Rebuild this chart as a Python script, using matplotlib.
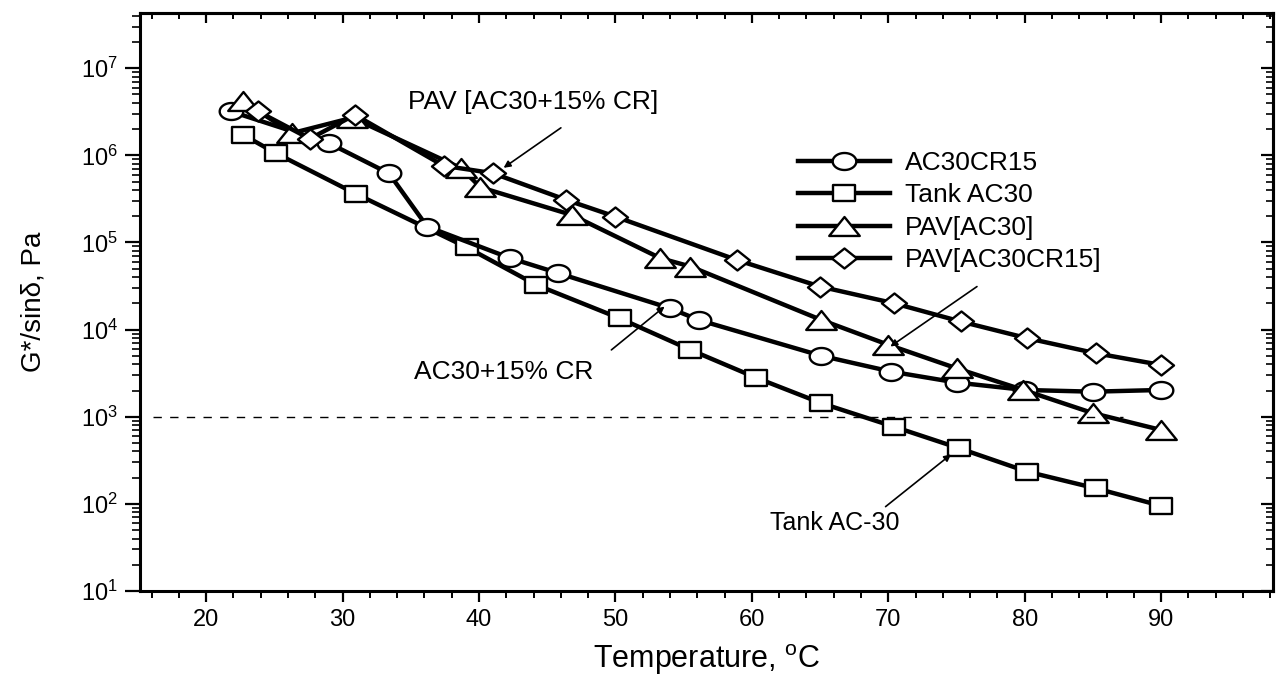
import numpy as np
import matplotlib
matplotlib.use('Agg')
import matplotlib.pyplot as plt
from matplotlib.path import Path
from matplotlib.ticker import MultipleLocator, LogLocator, NullFormatter, FixedLocator

plt.rcParams['font.family'] = ['Liberation Sans', 'DejaVu Sans']
plt.rcParams['mathtext.fontset'] = 'custom'
plt.rcParams['mathtext.rm'] = 'Liberation Sans'
plt.rcParams['mathtext.it'] = 'Liberation Sans:italic'
plt.rcParams['mathtext.bf'] = 'Liberation Sans:bold'

# ---------------- data ----------------
temp_ac30cr15 = [21.8, 29.0, 33.4, 36.2, 42.3, 45.8, 54.0, 56.1, 65.1, 70.2, 75.0, 80.0, 85.0, 90.0]
g_ac30cr15 = [3.2e6, 1.38e6, 6.2e5, 1.52e5, 6.6e4, 4.45e4, 1.76e4, 1.29e4, 5.0e3, 3.3e3, 2.47e3, 2.03e3, 1.94e3, 2.03e3]

temp_tank = [22.7, 25.1, 31.0, 39.1, 44.2, 50.3, 55.5, 60.3, 65.1, 70.4, 75.2, 80.2, 85.2, 90.0]
g_tank = [1.72e6, 1.06e6, 3.6e5, 8.8e4, 3.26e4, 1.35e4, 5.85e3, 2.81e3, 1.43e3, 770, 435, 234, 151, 95]

temp_pav = [22.7, 26.3, 30.7, 38.7, 40.1, 46.8, 53.3, 55.5, 65.1, 70.0, 75.0, 79.9, 85.0, 90.0]
g_pav = [4.2e6, 1.8e6, 2.7e6, 7.1e5, 4.3e5, 2.07e5, 6.6e4, 5.3e4, 1.29e4, 6.7e3, 3.6e3, 2.03e3, 1.1e3, 705]

temp_pavcr = [23.8, 27.6, 30.9, 37.4, 41.0, 46.4, 50.0, 58.9, 65.0, 70.4, 75.3, 80.2, 85.2, 90.0]
g_pavcr = [3.19e6, 1.55e6, 2.92e6, 7.6e5, 6.25e5, 3.08e5, 1.98e5, 6.3e4, 3.12e4, 2.01e4, 1.24e4, 7.96e3, 5.36e3, 3.93e3]

labels = ['AC30CR15', 'Tank AC30', 'PAV[AC30]', 'PAV[AC30CR15]']
spec_limit = 1000.0
x_ticks = [20, 30, 40, 50, 60, 70, 80, 90]

# ---------------- markers ----------------
t = np.linspace(0, 2 * np.pi, 64)
ellipse = Path(np.column_stack([np.cos(t), 0.72 * np.sin(t)]), closed=True)
rect = Path([(-1, -0.78), (1, -0.78), (1, 0.78), (-1, 0.78), (-1, -0.78)], closed=True)
tri = Path([(0, 0.62), (-1, -0.62), (1, -0.62), (0, 0.62)], closed=True)
diam = Path([(0, 0.8), (1, 0), (0, -0.8), (-1, 0), (0, 0.8)], closed=True)

fig = plt.figure(figsize=(12.79, 6.77), dpi=100)
ax = fig.add_axes([0.1095, 0.127, 0.8858, 0.8533])

common = dict(color='black', lw=3.2, mfc='white', mec='black', mew=1.7)
h_sq, = ax.plot(temp_tank, g_tank, marker=rect, ms=15.5, **common)
h_ci, = ax.plot(temp_ac30cr15, g_ac30cr15, marker=ellipse, ms=17, **common)
h_tr, = ax.plot(temp_pav, g_pav, marker=tri, ms=22, **common)
h_di, = ax.plot(temp_pavcr, g_pavcr, marker=diam, ms=18, **common)

ax.plot([16.1, 87.2], [spec_limit, spec_limit], color='black', lw=1.0, ls=(0, (6, 6)))

ax.set_yscale('log')
ax.set_xlim(15.15, 98.2)
ax.set_ylim(10, 10 ** 7.63)

ax.xaxis.set_major_locator(FixedLocator(x_ticks))
ax.xaxis.set_minor_locator(MultipleLocator(2))
ax.yaxis.set_major_locator(LogLocator(base=10, numticks=20))
ax.yaxis.set_minor_locator(LogLocator(base=10, subs=np.arange(2, 10), numticks=20))
ax.yaxis.set_minor_formatter(NullFormatter())

ax.tick_params(axis='x', which='major', direction='out', length=8, width=1.6, labelsize=17, pad=5)
ax.tick_params(axis='x', which='minor', direction='out', length=5, width=1.4)
ax.tick_params(axis='y', which='major', direction='out', length=11, width=1.6, labelsize=17, pad=5)
ax.tick_params(axis='y', which='minor', direction='out', length=6, width=1.2)
for s in ax.spines.values():
    s.set_linewidth(2.2)

# mirrored ticks pointing inward on top and right
secx = ax.secondary_xaxis('top')
secx.xaxis.set_major_locator(FixedLocator(x_ticks))
secx.xaxis.set_minor_locator(MultipleLocator(2))
secx.tick_params(which='major', direction='in', length=7, width=1.6, labeltop=False)
secx.tick_params(which='minor', direction='in', length=4, width=1.4)
secx.spines['top'].set_linewidth(2.2)

secy = ax.secondary_yaxis('right')
secy.yaxis.set_major_locator(LogLocator(base=10, numticks=20))
secy.yaxis.set_minor_locator(LogLocator(base=10, subs=np.arange(2, 10), numticks=20))
secy.yaxis.set_minor_formatter(NullFormatter())
secy.tick_params(which='major', direction='in', length=9, width=1.6, labelright=False)
secy.tick_params(which='minor', direction='in', length=5, width=1.2)
secy.spines['right'].set_linewidth(2.2)

ax.set_xlabel(r'Temperature, $^{\rm o}$C', fontsize=22)
ax.xaxis.set_label_coords(0.5, -0.088)
ax.set_ylabel('G*/sinδ, Pa', fontsize=20)
ax.yaxis.set_label_coords(-0.083, 0.5)

# annotations
arrow = dict(arrowstyle='-|>', color='black', lw=1.2, mutation_scale=10, shrinkA=0, shrinkB=0)
ax.text(34.8, 4.15e6, 'PAV [AC30+15% CR]', fontsize=19, ha='left', va='center')
ax.annotate('', xy=(41.8, 7.2e5), xytext=(46.0, 2.07e6), arrowprops=arrow)
ax.text(35.2, 3.27e3, 'AC30+15% CR', fontsize=19, ha='left', va='center')
ax.annotate('', xy=(53.6, 1.84e4), xytext=(49.7, 5.85e3), arrowprops=arrow)
ax.text(61.3, 60, 'Tank AC-30', fontsize=18, ha='left', va='center')
ax.annotate('', xy=(74.6, 370), xytext=(69.8, 93), arrowprops=arrow)
ax.annotate('', xy=(70.15, 6.4e3), xytext=(76.5, 3.12e4), arrowprops=arrow)

leg = ax.legend([h_ci, h_sq, h_tr, h_di], labels, loc='upper left',
                bbox_to_anchor=(798 / 1279, 1 - 151 / 677), bbox_transform=fig.transFigure,
                frameon=False, fontsize=19, handlelength=3.5, handletextpad=0.55,
                labelspacing=0.32, borderpad=0, borderaxespad=0, numpoints=1)

fig.savefig('out.png', dpi=100)
